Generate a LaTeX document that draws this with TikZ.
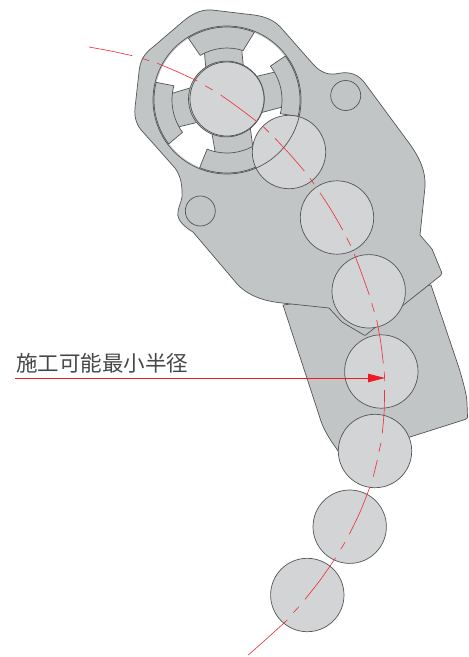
\documentclass[tikz,border=0pt]{standalone}
\usepackage{fontspec}
\usetikzlibrary{arrows.meta}
\newfontfamily\cjkfont{Noto Sans CJK JP}
\definecolor{bodygray}{HTML}{C2C5C6}
\definecolor{discgray}{HTML}{D3D4D6}
\definecolor{edgegray}{HTML}{555555}
\definecolor{cenred}{HTML}{EE3340}
\definecolor{arrowred}{HTML}{ED1C24}
\tikzset{
  part/.style={fill=bodygray,draw=edgegray,line width=0.7pt,line join=round},
  disc/.style={fill=discgray,draw=edgegray,line width=0.7pt},
  outline/.style={draw=edgegray,line width=0.7pt},
  cen/.style={draw=cenred,line width=0.65pt},
}
\newcommand{\annsec}[6]{% outer start, outer end, inner end, inner start, r out, r in
  \path[part] ([shift={(#1:#5)}]ringc) arc[start angle=#1,end angle=#2,radius=#5]
    -- ([shift={(#3:#6)}]ringc) arc[start angle=#3,end angle=#4,radius=#6] -- cycle;}
\newcommand{\censeg}[1]{\draw[cen] plot[smooth] coordinates {#1};}
\begin{document}
\begin{tikzpicture}[x=1pt,y=1pt,yscale=-1]
\useasboundingbox (0,0) rectangle (469,657);
\coordinate (ringc) at (227,100);
% lower body
\path[part] (283,305) -- (319,415) .. controls (324,433) and (333,443) .. (338,451)
  -- (375,451) -- (410,437) -- (465,419.5) .. controls (467,419) and (467.5,418) .. (467.5,417)
  -- (467,403) .. controls (467,395) and (462,378) .. (459,368) -- (431,285) -- cycle;
% upper body
\path[part] (212,10) -- (250,14.5) .. controls (265,16) and (275,20) .. (283,30)
  -- (312,63) .. controls (318,70) and (325,75) .. (335,74)
  .. controls (345,72) and (355,71) .. (364,82)
  -- (409,143) .. controls (420,158) and (426,172) .. (425,187)
  -- (420,235) -- (432,249) -- (441.5,272) .. controls (442,274) and (441,275) .. (440,276)
  -- (367,334) .. controls (366,335.5) and (365,335.5) .. (364,335)
  -- (342,322) -- (329,308) -- (282,303)
  .. controls (265,301) and (250,297) .. (238,285)
  -- (193,232) .. controls (186,228) and (176,220) .. (178,212)
  .. controls (179,204) and (183,200) .. (182,192)
  .. controls (182,183) and (180,175) .. (175,168)
  -- (143,132) .. controls (137,126) and (134,118) .. (135,108)
  -- (139,72) .. controls (140,60) and (145,53) .. (153,47)
  -- (180,24) .. controls (190,15) and (200,9) .. (212,10) -- cycle;
% small holes
\draw[outline] (345.7,95.5) circle[radius=15];
\draw[outline] (200.3,211) circle[radius=15];
% ring opening
\fill[white] (ringc) circle[radius=72.5];
% spokes
\path[part] (203.6,44) -- (206.5,75) -- (244,73) -- (241,42) -- cycle;
\path[part] (215.7,155) -- (210.5,125) -- (249.5,122) -- (253.5,152) -- cycle;
\path[part] (167,94.8) -- (195,86.5) -- (205,120.5) -- (174,128) -- cycle;
\path[part] (279,71) -- (250,78) -- (258,113.5) -- (286,106) -- cycle;
% ring segments
\annsec{-122}{-68}{-72}{-121}{73}{52}
\annsec{-37}{13}{14.4}{-38}{73}{55}
\annsec{112}{55}{59.5}{112}{73}{53}
\annsec{-166}{-217}{-216}{-165}{73}{55}
% centre disc
\path[part] (226.4,99) circle[radius=37.9];
\path[disc] (227,99) circle[radius=37];
% rollers
\path[disc] (289,152) circle[radius=36.7];
\path[disc] (337,217.5) circle[radius=36.7];
\path[disc] (368.7,291.3) circle[radius=36.7];
\path[disc] (381.3,371.5) circle[radius=36.7];
\path[disc] (375,451) circle[radius=36.7];
\path[disc] (349.7,526.7) circle[radius=36.7];
\path[disc] (307.3,595) circle[radius=36.7];
% ring outline on top
\draw[outline] (ringc) circle[radius=74];
% centre line
\censeg{(89,47) (110.7,51) (132.3,55.7)}
\censeg{(141.7,58.3) (149,60.7)}
\censeg{(157.3,63.3) (177.5,71.8) (197.3,81)}
\censeg{(205,85.7) (212.7,90)}
\censeg{(220.7,95) (239,108) (257,121.7)}
\censeg{(263.3,126.7) (269,132.3)}
\censeg{(275,138.3) (290,154.4) (304.3,171)}
\censeg{(310,178.3) (314.3,184.3)}
\censeg{(320,192.7) (331.8,211) (342.7,230)}
\censeg{(346.7,237.7) (350.7,245.7)}
\censeg{(354.3,254) (362,274.3) (369.3,295)}
\censeg{(371.7,303.3) (374.3,311.7)}
\censeg{(376.7,320) (380.6,341.3) (383.3,363.3)}
\censeg{(384.3,371.7) (384.7,381)}
\censeg{(384.5,390) (384.2,411) (382.3,433.3)}
\censeg{(381,442.7) (379,451.7)}
\censeg{(377.3,460) (373.3,476.7)}
\censeg{(370,486.7) (360.5,511) (349.3,534.3)}
\censeg{(345,542.3) (340.7,549.3)}
\censeg{(335.7,557.7) (321,579) (305,599.3)}
\censeg{(299,606.7) (293.3,612.7)}
\censeg{(287.3,620) (268,637.5) (248.3,655)}
% label and arrow
\node[anchor=west,inner sep=0pt,text=black!72] (lab) at (16,363) {\cjkfont\fontsize{21.5pt}{24pt}\selectfont 施工可能最小半径};
\coordinate (arrs) at (15,378);
\coordinate (arre) at (385,378);
\draw[draw=arrowred,line width=0.9pt,-{Triangle[length=17pt,width=8.5pt,fill=arrowred]}] (arrs) -- (arre);
\end{tikzpicture}
\end{document}
